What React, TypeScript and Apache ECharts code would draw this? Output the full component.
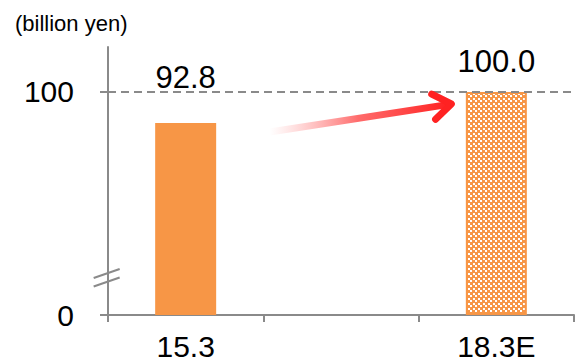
import React, { useEffect, useRef } from 'react';
import * as echarts from 'echarts';

// ---- data ----
const categories = ['15.3', '', '18.3E'];
const values: (number | null)[] = [92.8, null, 100.0];
const yTickValues = [0, 100];
const unitLabel = '(billion yen)';
const referenceValue = 100;
// visual amount of the value axis removed by the "//" break
const axisBreakAmount = 48.2;
const axisTopValue = 110.45;

const disp = (v: number) => (v <= 0 ? 0 : v - axisBreakAmount);

const FONT = '"Liberation Sans", Arial, sans-serif';
const ORANGE = '#F79646';
const GRAY = '#8a8a8a';

function makePattern() {
  const c = document.createElement('canvas');
  c.width = 10;
  c.height = 10;
  const ctx = c.getContext('2d')!;
  ctx.fillStyle = ORANGE;
  ctx.fillRect(0, 0, 10, 10);
  ctx.fillStyle = '#ffffff';
  const pts = [
    [0, 0], [5, 0], [0, 5], [5, 5],
    [2.5, 2.5], [7.5, 2.5], [2.5, 7.5], [7.5, 7.5],
  ];
  pts.forEach(([x, y]) => ctx.fillRect(Math.round(x), Math.round(y), 2, 2));
  return c;
}

export default function App() {
  const ref = useRef<HTMLDivElement>(null);
  useEffect(() => {
    if (!ref.current) return;
    const chart = echarts.init(ref.current, undefined, { renderer: 'svg' });
    const pattern = makePattern();
    const labelDist = [30, 15];
    const data = values.map((v, i) => {
      if (v == null) return '-';
      const isEst = categories[i].endsWith('E');
      return {
        value: disp(v),
        itemStyle: isEst
          ? { color: { image: pattern, repeat: 'repeat' }, borderColor: ORANGE, borderWidth: 2 }
          : { color: ORANGE },
        label: {
          show: true,
          position: 'top',
          distance: labelDist[i === 0 ? 0 : 1],
          formatter: () => v.toFixed(1),
          fontSize: 31,
          fontFamily: FONT,
          color: '#000',
        },
      };
    });
    chart.setOption({
      animation: false,
      title: {
        text: unitLabel,
        left: 10,
        top: 7,
        textStyle: { fontSize: 22, fontWeight: 'normal', fontFamily: FONT, color: '#000' },
      },
      grid: { left: 108, right: 1, top: 47, bottom: 48, containLabel: false },
      xAxis: {
        type: 'category',
        data: categories,
        axisLine: { lineStyle: { color: GRAY, width: 2 } },
        axisTick: { show: true, length: 7, lineStyle: { color: GRAY, width: 2 } },
        axisLabel: { fontSize: 30, fontFamily: FONT, color: '#000', margin: 16 },
      },
      yAxis: {
        type: 'value',
        min: 0,
        max: disp(axisTopValue),
        axisLine: { show: true, lineStyle: { color: GRAY, width: 2 } },
        splitLine: { show: false },
        axisTick: {
          show: true,
          length: 8,
          customValues: yTickValues.map(disp),
          lineStyle: { color: GRAY, width: 2 },
        },
        axisLabel: {
          customValues: yTickValues.map(disp),
          formatter: (val: number) => {
            const idx = yTickValues.map(disp).findIndex((d) => Math.abs(d - val) < 1e-6);
            return idx >= 0 ? String(yTickValues[idx]) : '';
          },
          fontSize: 30,
          fontFamily: FONT,
          color: '#000',
          margin: 34,
        },
      },
      series: [
        {
          type: 'bar',
          data,
          barWidth: 61,
          markLine: {
            silent: true,
            symbol: 'none',
            label: { show: false },
            lineStyle: { color: GRAY, width: 2, type: [8, 5] },
            data: [{ yAxis: disp(referenceValue) }],
          },
        },
      ],
    });

    // annotations: axis break marks and growth arrow, placed from axis coordinates
    const origin = chart.convertToPixel({ xAxisIndex: 0, yAxisIndex: 0 }, [0, 0]) as number[];
    const axisX = origin[0] - 186 + 108;
    const breakY = origin[1] - 37;
    const p0 = chart.convertToPixel({ xAxisIndex: 0, yAxisIndex: 0 }, [0, disp(values[0] as number)]) as number[];
    const p2 = chart.convertToPixel({ xAxisIndex: 0, yAxisIndex: 0 }, [2, disp(values[2] as number)]) as number[];
    const start = [p0[0] + 84, p0[1] + 9];
    const tip = [p2[0] - 45, p2[1] + 12];
    const ang = Math.atan2(tip[1] - start[1], tip[0] - start[0]);
    const headLen = 22;
    const spread = 0.62;
    const h1 = [tip[0] - headLen * Math.cos(ang - spread), tip[1] - headLen * Math.sin(ang - spread)];
    const h2 = [tip[0] - headLen * Math.cos(ang + spread), tip[1] - headLen * Math.sin(ang + spread)];
    const shaftEnd = [tip[0] - 4 * Math.cos(ang), tip[1] - 4 * Math.sin(ang)];

    chart.setOption({
      graphic: [
        {
          type: 'line',
          shape: { x1: axisX - 14, y1: breakY, x2: axisX + 12, y2: breakY - 9 },
          style: { stroke: GRAY, lineWidth: 2 },
          z: 100,
        },
        {
          type: 'line',
          shape: { x1: axisX - 14, y1: breakY + 8.5, x2: axisX + 12, y2: breakY - 0.5 },
          style: { stroke: GRAY, lineWidth: 2 },
          z: 100,
        },
        {
          type: 'line',
          shape: { x1: start[0], y1: start[1], x2: shaftEnd[0], y2: shaftEnd[1] },
          style: {
            lineWidth: 7,
            stroke: {
              type: 'linear',
              x: 0,
              y: 0,
              x2: 1,
              y2: 0,
              colorStops: [
                { offset: 0, color: 'rgba(255,255,255,0.6)' },
                { offset: 0.5, color: 'rgba(255,90,90,0.9)' },
                { offset: 1, color: '#FF2222' },
              ],
            },
          },
          z: 100,
        },
        {
          type: 'polyline',
          shape: { points: [h1, tip, h2] },
          style: { stroke: '#FF2222', lineWidth: 7, fill: 'none', lineJoin: 'round', lineCap: 'round' },
          z: 101,
        },
      ],
    });
    return () => chart.dispose();
  }, []);
  return (
    <div
      ref={ref}
      style={{ position: 'fixed', left: 0, top: 0, width: 575, height: 363, background: '#fff' }}
    />
  );
}
